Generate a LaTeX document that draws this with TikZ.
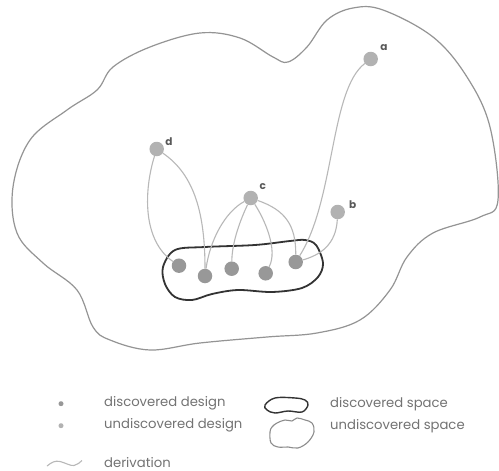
\documentclass[tikz,border=0pt]{standalone}
\usepackage{fontspec}
\setmainfont{Poppins}
\begin{document}
\begin{tikzpicture}[x=1pt,y=-1pt,
  found/.style={circle,fill=gray!85!black!70,minimum size=14.5pt,inner sep=0pt},
  open/.style={circle,fill=black!30,minimum size=14.5pt,inner sep=0pt},
  tag/.style={font=\fontsize{10.5}{12}\selectfont\bfseries,text=black!65,inner sep=0pt},
  deriv/.style={draw=black!28,line width=1.1pt},
  legtext/.style={font=\fontsize{13.2}{15}\selectfont,text=black!55,anchor=west,inner sep=0pt},
  outer/.style={draw=black!42,line width=1.2pt},
  inner/.style={draw=black!80,line width=1.8pt}]
\useasboundingbox (0,0) rectangle (499,471);
\fill[white] (0,0) rectangle (499,471);

% undiscovered space
\draw[outer] plot[smooth cycle,tension=0.6] coordinates {
  (13,187) (30,140) (67,110) (97,90) (113,67) (150,47) (200,33) (240,38)
  (273,57) (288,62) (307,47) (327,20) (353,8) (383,10) (433,37) (467,77)
  (490,127) (498,200) (480,217) (433,233) (407,257) (390,290) (360,320)
  (317,333) (267,337) (200,343) (150,350) (110,340) (93,327) (77,290)
  (43,263) (17,233)};

% discovered space
\draw[inner] plot[smooth cycle,tension=0.55] coordinates {
  (163,267) (175,250) (205,247) (255,245) (290,241) (305,240) (316,245)
  (323,263) (318,277) (302,288) (272,292) (238,290) (212,294) (192,300)
  (175,297) (165,284)};

% designs
\node[open] (a) at (370.7,59) {};
\node[open] (b) at (337.7,212) {};
\node[open] (c) at (250.7,198) {};
\node[open] (d) at (156.7,149) {};
\node[found] (n1) at (179,265.7) {};
\node[found] (n2) at (205,276) {};
\node[found] (n3) at (231.7,268.7) {};
\node[found] (n4) at (265.7,273.3) {};
\node[found] (n5) at (295.7,262) {};

\node[tag] (la) at (384,48) {a};
\node[tag] (lb) at (352.7,205) {b};
\node[tag] (lc) at (262.7,187) {c};
\node[tag] (ld) at (169,142) {d};

% derivations
\draw[deriv] (d) .. controls (144,190) and (142,240) .. (n1);
\draw[deriv] (d) .. controls (195,175) and (205,215) .. (n2);
\draw[deriv] (c) .. controls (225,212) and (210,240) .. (n2);
\draw[deriv] (c) .. controls (238,225) and (232,245) .. (n3);
\draw[deriv] (c) .. controls (265,220) and (278,250) .. (n4);
\draw[deriv] (c) .. controls (285,210) and (296,225) .. (n5);
\draw[deriv] (a) .. controls (330,90) and (335,200) .. (n5);
\draw[deriv] (b) .. controls (336,245) and (320,255) .. (n5);

% legend
\node[circle,fill=gray!85!black!70,minimum size=5pt,inner sep=0pt] (kfound) at (61,403.7) {};
\node[circle,fill=black!30,minimum size=5pt,inner sep=0pt] (kopen) at (61,425.7) {};
\coordinate (kw0) at (47,466);
\coordinate (kw1) at (82,460.5);
\draw[deriv] (kw0) .. controls (52,462) and (55,460.5) .. (60,461.5)
  .. controls (66,463) and (70,466) .. (74,465.5)
  .. controls (77,465) and (80,462.5) .. (kw1);
\node[legtext] (t1) at (104,403.7) {discovered design};
\node[legtext] (t2) at (104,425.7) {undiscovered design};
\node[legtext] (t3) at (104,462.5) {derivation};
\draw[draw=black!80,line width=1.4pt] plot[smooth cycle,tension=0.6] coordinates {
  (265,405) (275,398) (295,398) (305,400) (308,405) (302,412) (288,411)
  (275,413) (267,410)};
\draw[draw=black!45,line width=1.1pt] plot[smooth cycle,tension=0.6] coordinates {
  (270,432) (271,443) (278,447) (288,447) (298,448) (308,442) (314,432)
  (312,423) (305,420) (297,418) (292,421) (285,420) (277,423) (272,427)};
\node[legtext] (t4) at (330,403.7) {discovered space};
\node[legtext] (t5) at (330,425.7) {undiscovered space};
\end{tikzpicture}
\end{document}
